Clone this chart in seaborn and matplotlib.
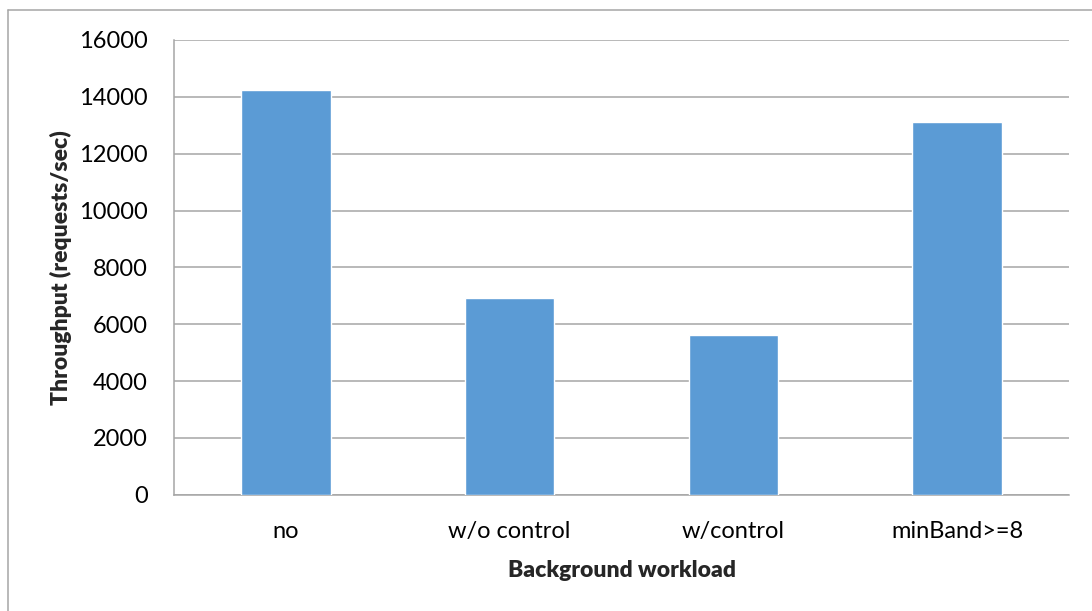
import matplotlib
matplotlib.use("Agg")
import matplotlib.pyplot as plt
from matplotlib.lines import Line2D
import seaborn as sns
import pandas as pd

# Throughput measured under each background workload setting
workloads = ["no", "w/o control", "w/control", "minBand>=8"]
throughput = [14250, 6930, 5620, 13100]
y_ticks = [0, 2000, 4000, 6000, 8000, 10000, 12000, 14000, 16000]

df = pd.DataFrame({"workload": workloads, "throughput": throughput})

sns.set_theme(style="white")
plt.rcParams["font.family"] = ["Lato", "DejaVu Sans"]

grid_color = "#a6a6a6"
bar_color = "#5b9bd5"

fig = plt.figure(figsize=(10.92, 6.11), dpi=100)
fig.patch.set_facecolor("white")
ax = fig.add_axes([174 / 1092, 1 - 494.7 / 611, (1069 - 174) / 1092, (494.7 - 40) / 611])

sns.barplot(data=df, x="workload", y="throughput", order=workloads,
            color=bar_color, saturation=1, width=0.4, ax=ax, zorder=3)

ax.set_xlim(-0.5, len(workloads) - 0.5)
ax.set_ylim(0, 16000)
ax.set_yticks(y_ticks)
ax.set_yticklabels([str(v) for v in y_ticks])
ax.yaxis.grid(True, color=grid_color, linewidth=1.1, zorder=0)
ax.set_axisbelow(True)

for side in ["top", "right"]:
    ax.spines[side].set_visible(False)
for side in ["left", "bottom"]:
    ax.spines[side].set_color(grid_color)
    ax.spines[side].set_linewidth(1.1)

ax.tick_params(axis="both", length=0, labelsize=17, colors="black")
ax.tick_params(axis="x", pad=19)
ax.tick_params(axis="y", pad=19)

ax.set_xlabel("Background workload", fontsize=16.5, fontweight="heavy", labelpad=13)
ax.set_ylabel("Throughput (requests/sec)", fontsize=16.5, fontweight="heavy", labelpad=5)

# Outer chart frame (top and left edges)
fig.add_artist(Line2D([8 / 1092, 8 / 1092], [0, 1 - 10 / 611],
                      transform=fig.transFigure, color=grid_color, linewidth=1.1))
fig.add_artist(Line2D([8 / 1092, 1], [1 - 10 / 611, 1 - 10 / 611],
                      transform=fig.transFigure, color=grid_color, linewidth=1.1))

fig.savefig("out.png", dpi=100, facecolor="white")
